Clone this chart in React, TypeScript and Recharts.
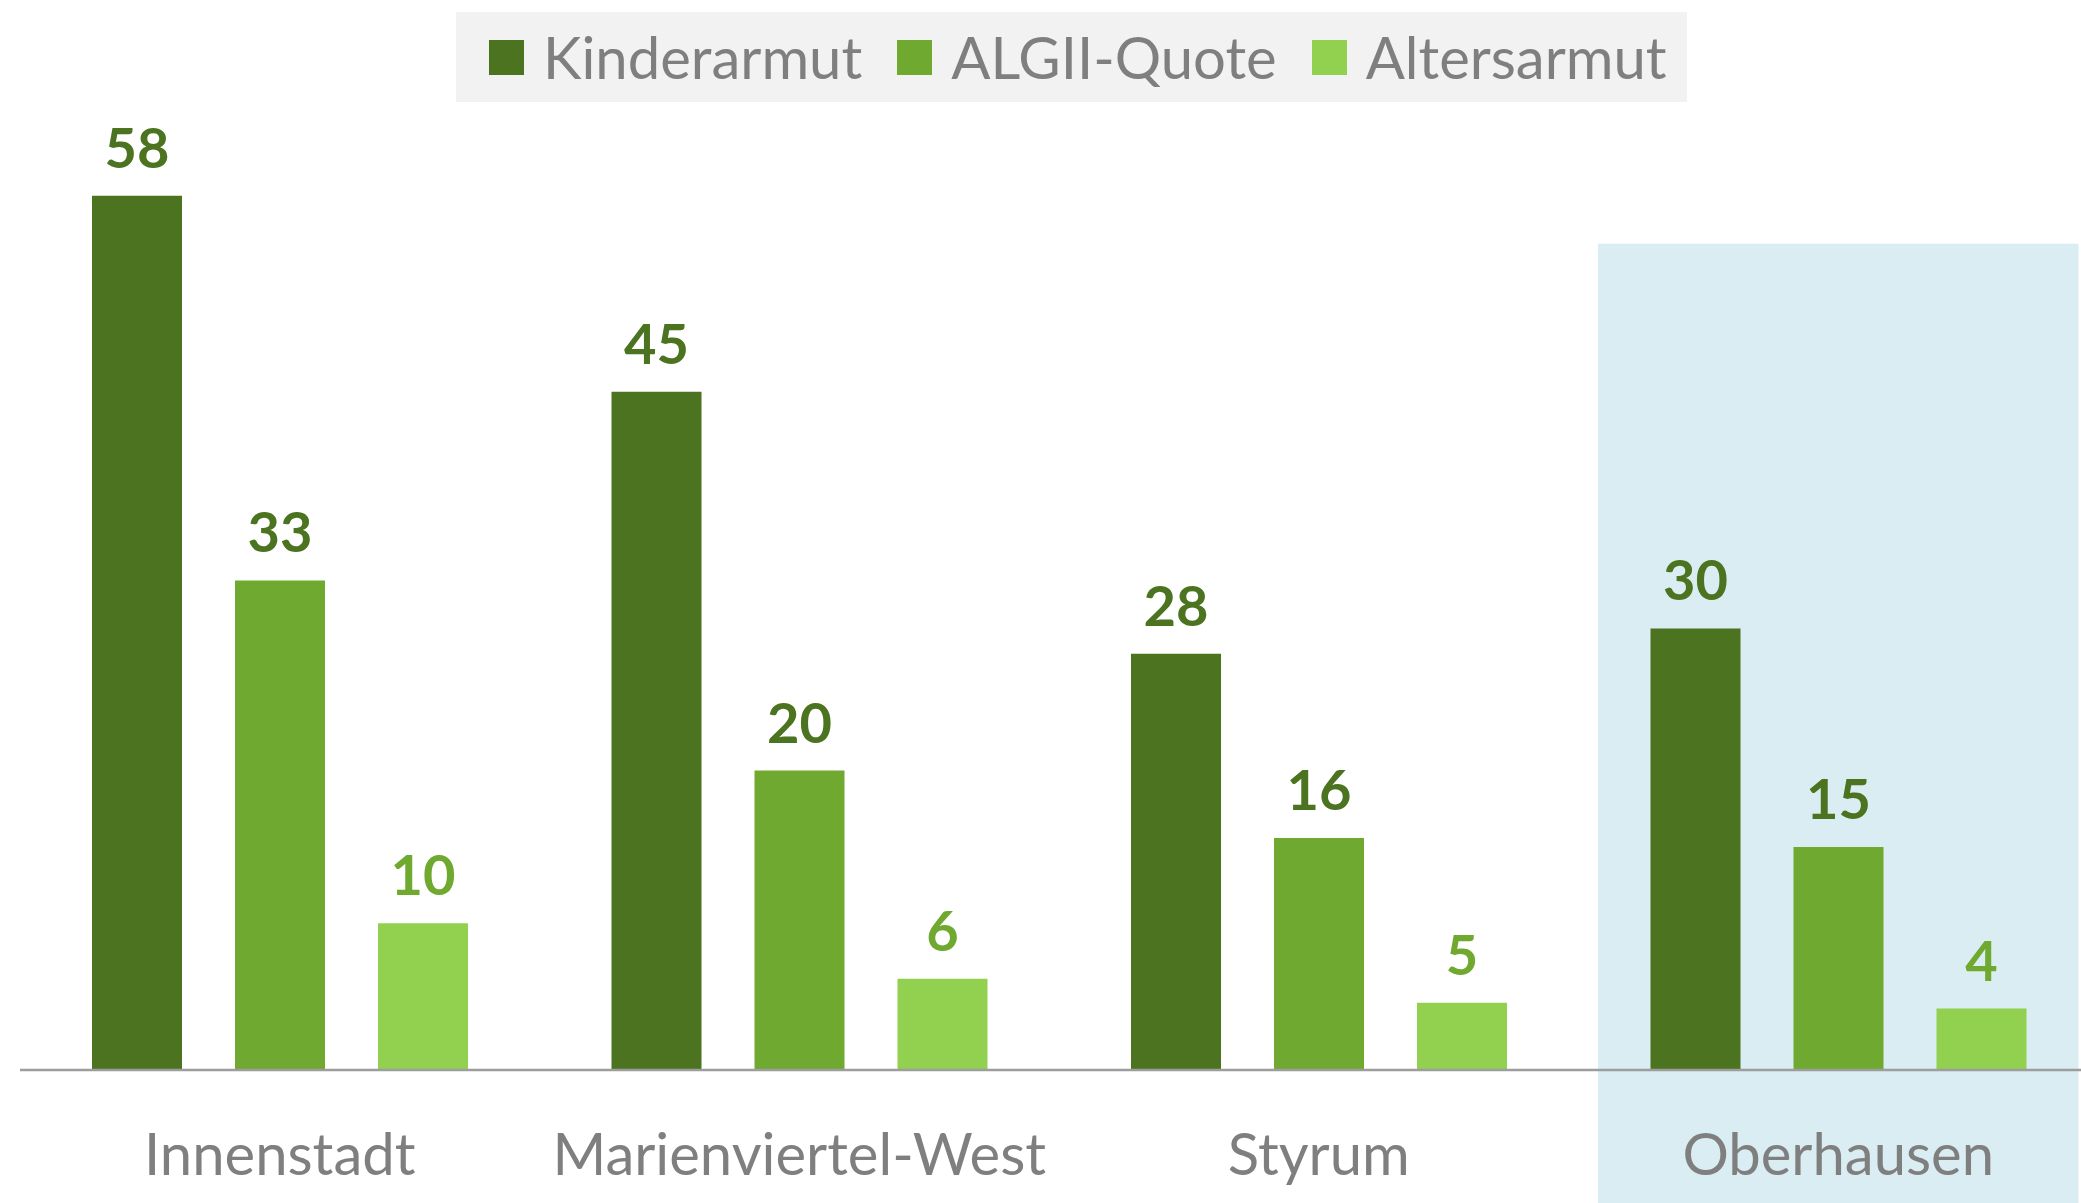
import React from 'react';
import { BarChart, Bar, XAxis, YAxis, Legend, LabelList, ReferenceArea } from 'recharts';

const districts = ['Innenstadt', 'Marienviertel-West', 'Styrum', 'Oberhausen'];
const seriesNames = ['Kinderarmut', 'ALGII-Quote', 'Altersarmut'];
const kinderarmut = [58.4, 45.3, 27.8, 29.5];
const algQuote = [32.7, 20.0, 15.5, 14.9];
const altersarmut = [9.8, 6.1, 4.5, 4.1];
const highlighted = 'Oberhausen';

const data = districts.map((name, i) => ({
  name,
  kinder: kinderarmut[i],
  alg: algQuote[i],
  alter: altersarmut[i],
}));

const FONT = 'Lato, "Open Sans", sans-serif';
const GREY = '#7f7f7f';

const CategoryTick = (props: any) => {
  const { x, y, payload } = props;
  return (
    <text x={x} y={y + 97} textAnchor="middle" fill={GREY} fontSize={58} fontFamily={FONT}>
      {payload.value}
    </text>
  );
};

const HighlightShape = (props: any) => {
  const { x, y, width, height } = props;
  return <rect x={x + 19.5} y={y} width={width - 39} height={height + 133} fill="#daedf3" />;
};

// keep the series order, recharts sorts the payload by name otherwise
const LegendBox = (props: any) => {
  const items = [...(props.payload || [])].sort(
    (a: any, b: any) => seriesNames.indexOf(a.value) - seriesNames.indexOf(b.value)
  );
  return (
    <div style={{ background: '#f2f2f2', width: 1231, height: 90, display: 'flex', alignItems: 'center', paddingLeft: 33, boxSizing: 'border-box', whiteSpace: 'nowrap' }}>
      {items.map((it: any, i: number) => (
        <div key={i} style={{ display: 'flex', alignItems: 'center', marginRight: 35, flexShrink: 0 }}>
          <div style={{ width: 35, height: 35, background: it.color, marginRight: 19 }} />
          <span style={{ fontFamily: FONT, fontSize: 58, color: GREY, lineHeight: 1, whiteSpace: 'nowrap' }}>{it.value}</span>
        </div>
      ))}
    </div>
  );
};

const fmt = (v: any) => Math.round(Number(v));

const App: React.FC = () => {
  return (
    <div style={{ position: 'absolute', left: 0, top: 0, width: 2081, height: 1203, overflow: 'hidden', background: '#fff' }}>
      <BarChart width={2100} height={1203} data={data} barSize={90} barGap={53}
        margin={{ top: 171.8, right: 2, left: 20, bottom: 103 }}>
        <ReferenceArea x1={highlighted} x2={highlighted} y1={0} y2={55.2} shape={HighlightShape} ifOverflow="visible" />
        <XAxis dataKey="name" height={30} tickLine={false} axisLine={{ stroke: '#9d9d9d', strokeWidth: 2.5 }} tick={<CategoryTick />} interval={0} />
        <YAxis hide domain={[0, 60]} />
        <Legend layout="horizontal" verticalAlign="middle" align="center" content={<LegendBox />}
          wrapperStyle={{ top: 12, left: 456, width: 1231, height: 90 }} />
        <Bar dataKey="kinder" name={seriesNames[0]} fill="#4b7320" isAnimationActive={false}>
          <LabelList dataKey="kinder" position="top" offset={28} formatter={fmt} fill="#4b7320" fontSize={56} fontWeight="bold" fontFamily={FONT} />
        </Bar>
        <Bar dataKey="alg" name={seriesNames[1]} fill="#6fa92f" isAnimationActive={false}>
          <LabelList dataKey="alg" position="top" offset={28} formatter={fmt} fill="#4b7320" fontSize={56} fontWeight="bold" fontFamily={FONT} />
        </Bar>
        <Bar dataKey="alter" name={seriesNames[2]} fill="#92d050" isAnimationActive={false}>
          <LabelList dataKey="alter" position="top" offset={28} formatter={fmt} fill="#6fa92f" fontSize={56} fontWeight="bold" fontFamily={FONT} />
        </Bar>
      </BarChart>
    </div>
  );
};

export default App;
